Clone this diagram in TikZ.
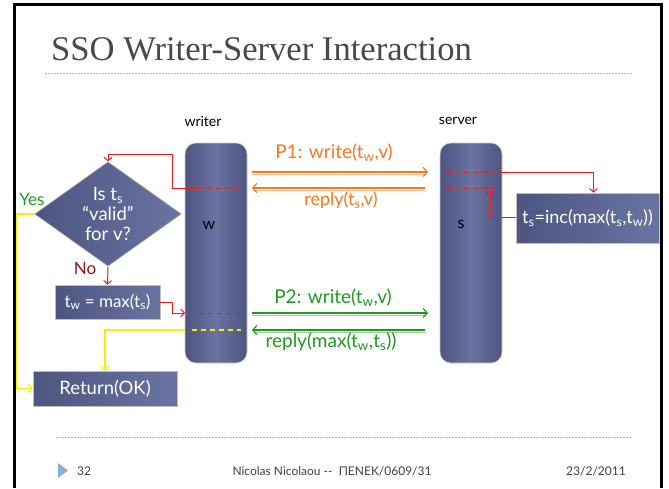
\documentclass[tikz,border=0pt]{standalone}
\usepackage{fontspec}
\setmainfont{Lato}
\newfontfamily\titlefont{Liberation Serif}
\usetikzlibrary{arrows.meta,shapes.geometric}
\definecolor{boxL}{HTML}{4D5580}
\definecolor{boxM}{HTML}{6A74A2}
\definecolor{myred}{HTML}{EE1C1C}
\definecolor{myorange}{HTML}{F47920}
\definecolor{mygreen}{HTML}{1F9A1F}
\definecolor{myyellow}{HTML}{F4F000}
\definecolor{nored}{HTML}{8B1414}
\definecolor{titlegray}{HTML}{474756}
\definecolor{dotblue}{HTML}{A8B8CE}
\definecolor{tri}{HTML}{8DAFD6}
\definecolor{footgray}{HTML}{404048}
\tikzset{
  shadebox/.style={draw=black!25, line width=0.6pt, left color=boxL, right color=boxM, text=white, inner sep=0pt},
  barbox/.style={draw=black!20, line width=0.6pt, rounded corners=11pt, left color=boxL, right color=boxL, middle color=boxM, minimum width=62pt, minimum height=220pt, inner sep=0pt},
  redline/.style={myred, line width=1pt},
  redarrow/.style={redline, -{Straight Barb[length=3.5pt,width=8pt]}},
  reddash/.style={myred, line width=1pt, dash pattern=on 5pt off 4pt},
  yelline/.style={myyellow, line width=1.2pt},
  yelarrow/.style={yelline, -{Straight Barb[length=3.5pt,width=8pt]}},
  yeldash/.style={myyellow, line width=1.2pt, dash pattern=on 5pt off 4pt},
  msgarrow/.style={line width=1.2pt, -{Straight Barb[length=4pt,width=9pt]}},
  msgshadow/.style={line width=1pt},
  lbl/.style={inner sep=0pt, font=\fontsize{19}{21}\selectfont},
  foot/.style={inner sep=0pt, text=footgray, font=\fontsize{12}{14}\selectfont}
}
\begin{document}
\begin{tikzpicture}[x=1pt,y=-1pt]
\useasboundingbox (0,0) rectangle (669,488);
\fill[white] (0,0) rectangle (669,488);
% frame
\draw[line width=3pt] (14,488) -- (14,4) -- (661,4) -- (661,488);
% title
\node[anchor=base west, inner sep=0pt, text=titlegray, font=\titlefont\fontsize{34.6}{36}\selectfont] (title) at (51,60) {SSO Writer-Server Interaction};
\draw[dotblue, line width=0.8pt, dash pattern=on 1.5pt off 1.5pt] (45,73) -- (632,73);
% footer
\draw[dotblue, line width=0.8pt, dash pattern=on 1.5pt off 1.5pt] (56,437) -- (632,437);
\fill[tri] (58,463) -- (68,470.5) -- (58,478) -- cycle;
\node[foot, anchor=west] (pg) at (77,471) {32};
\node[foot] (auth) at (332,471) {Nicolas Nicolaou -{}-\ \ ΠΕΝΕΚ/0609/31};
\node[foot, anchor=east] (date) at (626,471) {23/2/2011};

% bars
\node[font=\fontsize{14}{16}\selectfont, inner sep=0pt] (wtitle) at (203,121) {writer};
\node[font=\fontsize{14}{16}\selectfont, inner sep=0pt] (stitle) at (458,121) {server};
\node[barbox] (wbar) at (216,253) {};
\node[barbox] (sbar) at (471,253) {};
\node[inner sep=0pt, font=\fontsize{16}{18}\selectfont] (wlab) at (209,225) {w};
\node[inner sep=0pt, font=\fontsize{16}{18}\selectfont] (slab) at (461,224) {s};

% flow nodes
\node[shadebox, diamond, minimum width=147pt, minimum height=89pt, align=center, font=\fontsize{18.5}{20}\selectfont] (dia) at (108,214) {Is t\textsubscript{s}\\“valid”\\for v?};
\node[shadebox, minimum width=105pt, minimum height=34pt, font=\fontsize{17}{18}\selectfont] (tw) at (107.5,302) {t\textsubscript{w} = max(t\textsubscript{s})};
\node[shadebox, minimum width=144pt, minimum height=35pt, font=\fontsize{18.5}{20}\selectfont] (ret) at (105,388.5) {Return(OK)};
\node[shadebox, minimum width=143pt, minimum height=50pt, font=\fontsize{18}{20}\selectfont] (inc) at (587.5,218) {t\textsubscript{s}=inc(max(t\textsubscript{s},t\textsubscript{w}))};

\node[inner sep=0pt, text=mygreen, font=\fontsize{17}{18}\selectfont] (yes) at (32,199) {Yes};
\node[inner sep=0pt, text=nored, font=\fontsize{17}{18}\selectfont] (no) at (85,268) {No};

% coordinates for dashed marks
\coordinate (sd1a) at (446,172);
\coordinate (sd1b) at (500,172);
\coordinate (sd2a) at (446,188);
\coordinate (sd2b) at (495,188);
\coordinate (sup) at (490,190);
\coordinate (wd1a) at (198,188);
\coordinate (wd1b) at (241,188);
\coordinate (wturn) at (172,154);
\coordinate (wd2tip) at (185,313);
\coordinate (wd2a) at (190,313);
\coordinate (wd2b) at (241,313);
\coordinate (wy1) at (185,330);
\coordinate (wy1a) at (192,330);
\coordinate (wy1b) at (241,330);

% server side red
\draw[reddash] (sd1a) -- (sd1b);
\draw[redarrow] (sd1b) -| ([xshift=6pt]inc.north);
\draw[reddash] (sd2a) -- (sd2b);
\draw[redarrow] ([yshift=1pt]inc.west) -| (sup);

% writer side red
\draw[reddash] (wd1a) -- (wd1b);
\draw[redline] (wd1a) -- (180,188);
\draw[redarrow] (180,188) -| (wturn) -| (dia.north);
\draw[redarrow] (dia.south) -- (tw.north);
\draw[redarrow] (tw.east) -- ++(12,0) |- (wd2tip);
\draw[reddash] (wd2a) -- (wd2b);

% yellow
\draw[yeldash] (wy1a) -- (wy1b);
\draw[yelarrow] (wy1) -| (ret.north);
\draw[yelarrow] (dia.west) -- ++(-18,0) |- (ret.west);

% messages
\coordinate (o1a) at (252,172);
\coordinate (o1b) at (428,172);
\coordinate (o2a) at (425,188);
\coordinate (o2b) at (252,188);
\coordinate (g1a) at (252,313);
\coordinate (g1b) at (428,313);
\coordinate (g2a) at (425,330);
\coordinate (g2b) at (252,330);
\draw[msgshadow, myorange!45] ([yshift=-2.6pt]o1a) -- ([yshift=-2.6pt,xshift=-4pt]o1b);
\draw[msgarrow, myorange] (o1a) -- (o1b);
\draw[msgshadow, myorange!45] ([yshift=-2.6pt]o2a) -- ([yshift=-2.6pt,xshift=4pt]o2b);
\draw[msgarrow, myorange] (o2a) -- (o2b);
\draw[msgshadow, mygreen!45] ([yshift=-2.6pt]g1a) -- ([yshift=-2.6pt,xshift=-4pt]g1b);
\draw[msgarrow, mygreen] (g1a) -- (g1b);
\draw[msgshadow, mygreen!45] ([yshift=-2.6pt]g2a) -- ([yshift=-2.6pt,xshift=4pt]g2b);
\draw[msgarrow, mygreen] (g2a) -- (g2b);

\node[lbl, text=myorange] (p1) at (334,153) {P1: write(t\textsubscript{w},v)};
\node[lbl, text=myorange, font=\fontsize{18}{20}\selectfont] (r1) at (341,200) {reply(t\textsubscript{s},v)};
\node[lbl, text=mygreen] (p2) at (333,298) {P2: write(t\textsubscript{w},v)};
\node[lbl, text=mygreen] (r2) at (331,342) {reply(max(t\textsubscript{w},t\textsubscript{s}))};
\end{tikzpicture}
\end{document}
